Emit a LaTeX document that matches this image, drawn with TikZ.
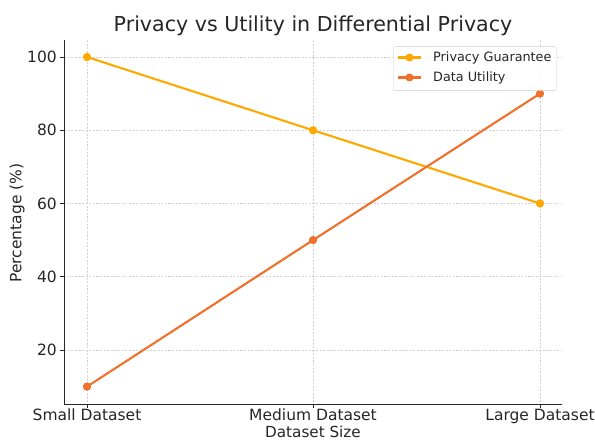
\documentclass[tikz,border=0pt]{standalone}
\usepackage{fontspec}
\setmainfont{DejaVu Sans}
\definecolor{privc}{RGB}{255,168,0}
\definecolor{utilc}{RGB}{240,112,44}
\definecolor{gridc}{RGB}{212,212,212}
\definecolor{legc}{RGB}{205,205,205}
\definecolor{txtc}{RGB}{38,38,38}
\begin{document}
\begin{tikzpicture}[x=1pt,y=-1pt,
  gridline/.style={draw=gridc,dash pattern=on 2.2pt off 1.4pt,line width=0.55pt},
  spine/.style={draw=txtc,line width=0.9pt},
  ticklab/.style={text=txtc,font=\fontsize{15.5}{17}\selectfont,inner sep=0pt},
  pt/.style={circle,inner sep=0pt,minimum size=8pt},
  ppt/.style={pt,fill=privc},
  upt/.style={pt,fill=utilc},
  pline/.style={draw=privc,line width=2.1pt},
  uline/.style={draw=utilc,line width=2.1pt},
  legtext/.style={anchor=west,text=txtc,font=\fontsize{12.8}{14}\selectfont,inner sep=0pt}]
\useasboundingbox[fill=white] (0,0) rectangle (595,441);
% grid
\foreach \x in {87,313,540} \draw[gridline] (\x,40) -- (\x,404);
\foreach \y in {57,130.25,203.5,276.75,350} \draw[gridline] (64,\y) -- (562,\y);
% spines
\coordinate (o) at (64,404);
\coordinate (top) at (64,40);
\coordinate (xr) at (562,404);
\draw[spine] (top) -- (o) -- (xr);
% ticks
\foreach \y/\l in {57/100,130.25/80,203.5/60,276.75/40,350/20}{
  \draw[spine,line width=0.7pt] (60,\y) -- (64,\y);
  \node[ticklab,anchor=east] at (57,\y) {\l};
}
\foreach \x/\l in {87/Small Dataset,313/Medium Dataset,540/Large Dataset}{
  \draw[spine,line width=0.7pt] (\x,404) -- (\x,408);
  \node[ticklab,anchor=base] at (\x,420) {\l};
}
% data
\node[ppt] (p1) at (87,57) {};
\node[ppt] (p2) at (313,130.25) {};
\node[ppt] (p3) at (540,203.5) {};
\node[upt] (u1) at (87,386.6) {};
\node[upt] (u2) at (313,240.1) {};
\node[upt] (u3) at (540,93.6) {};
\draw[pline] (p1.center) -- (p2.center) -- (p3.center);
\node[ppt] at (p1) {};\node[ppt] at (p2) {};\node[ppt] at (p3) {};
\draw[uline] (u1.center) -- (u2.center) -- (u3.center);
\node[upt] at (u1) {};\node[upt] at (u2) {};\node[upt] at (u3) {};
% legend
\node[draw=legc,fill=white,fill opacity=0.85,rounded corners=2pt,minimum width=163pt,minimum height=44pt,anchor=north west] (leg) at (393,46.5) {};
\coordinate (la1) at (398,57.5);
\coordinate (lb1) at (421,57.5);
\coordinate (la2) at (398,77.5);
\coordinate (lb2) at (421,77.5);
\draw[pline] (la1) -- (lb1);
\node[ppt] (lp) at (409.5,57.5) {};
\draw[uline] (la2) -- (lb2);
\node[upt] (lu) at (409.5,77.5) {};
\node[legtext] (lt1) at (433,57.5) {Privacy Guarantee};
\node[legtext] (lt2) at (433,77.5) {Data Utility};
% labels
\node[text=txtc,font=\fontsize{20.6}{23}\selectfont,inner sep=0pt,anchor=base] (title) at (313,32) {Privacy vs Utility in Differential Privacy};
\node[text=txtc,font=\fontsize{15.2}{17}\selectfont,inner sep=0pt,anchor=base] (xl) at (313,437) {Dataset Size};
\node[text=txtc,font=\fontsize{15.5}{17}\selectfont,rotate=90] (yl) at (17,223) {Percentage (\%)};
\end{tikzpicture}
\end{document}
